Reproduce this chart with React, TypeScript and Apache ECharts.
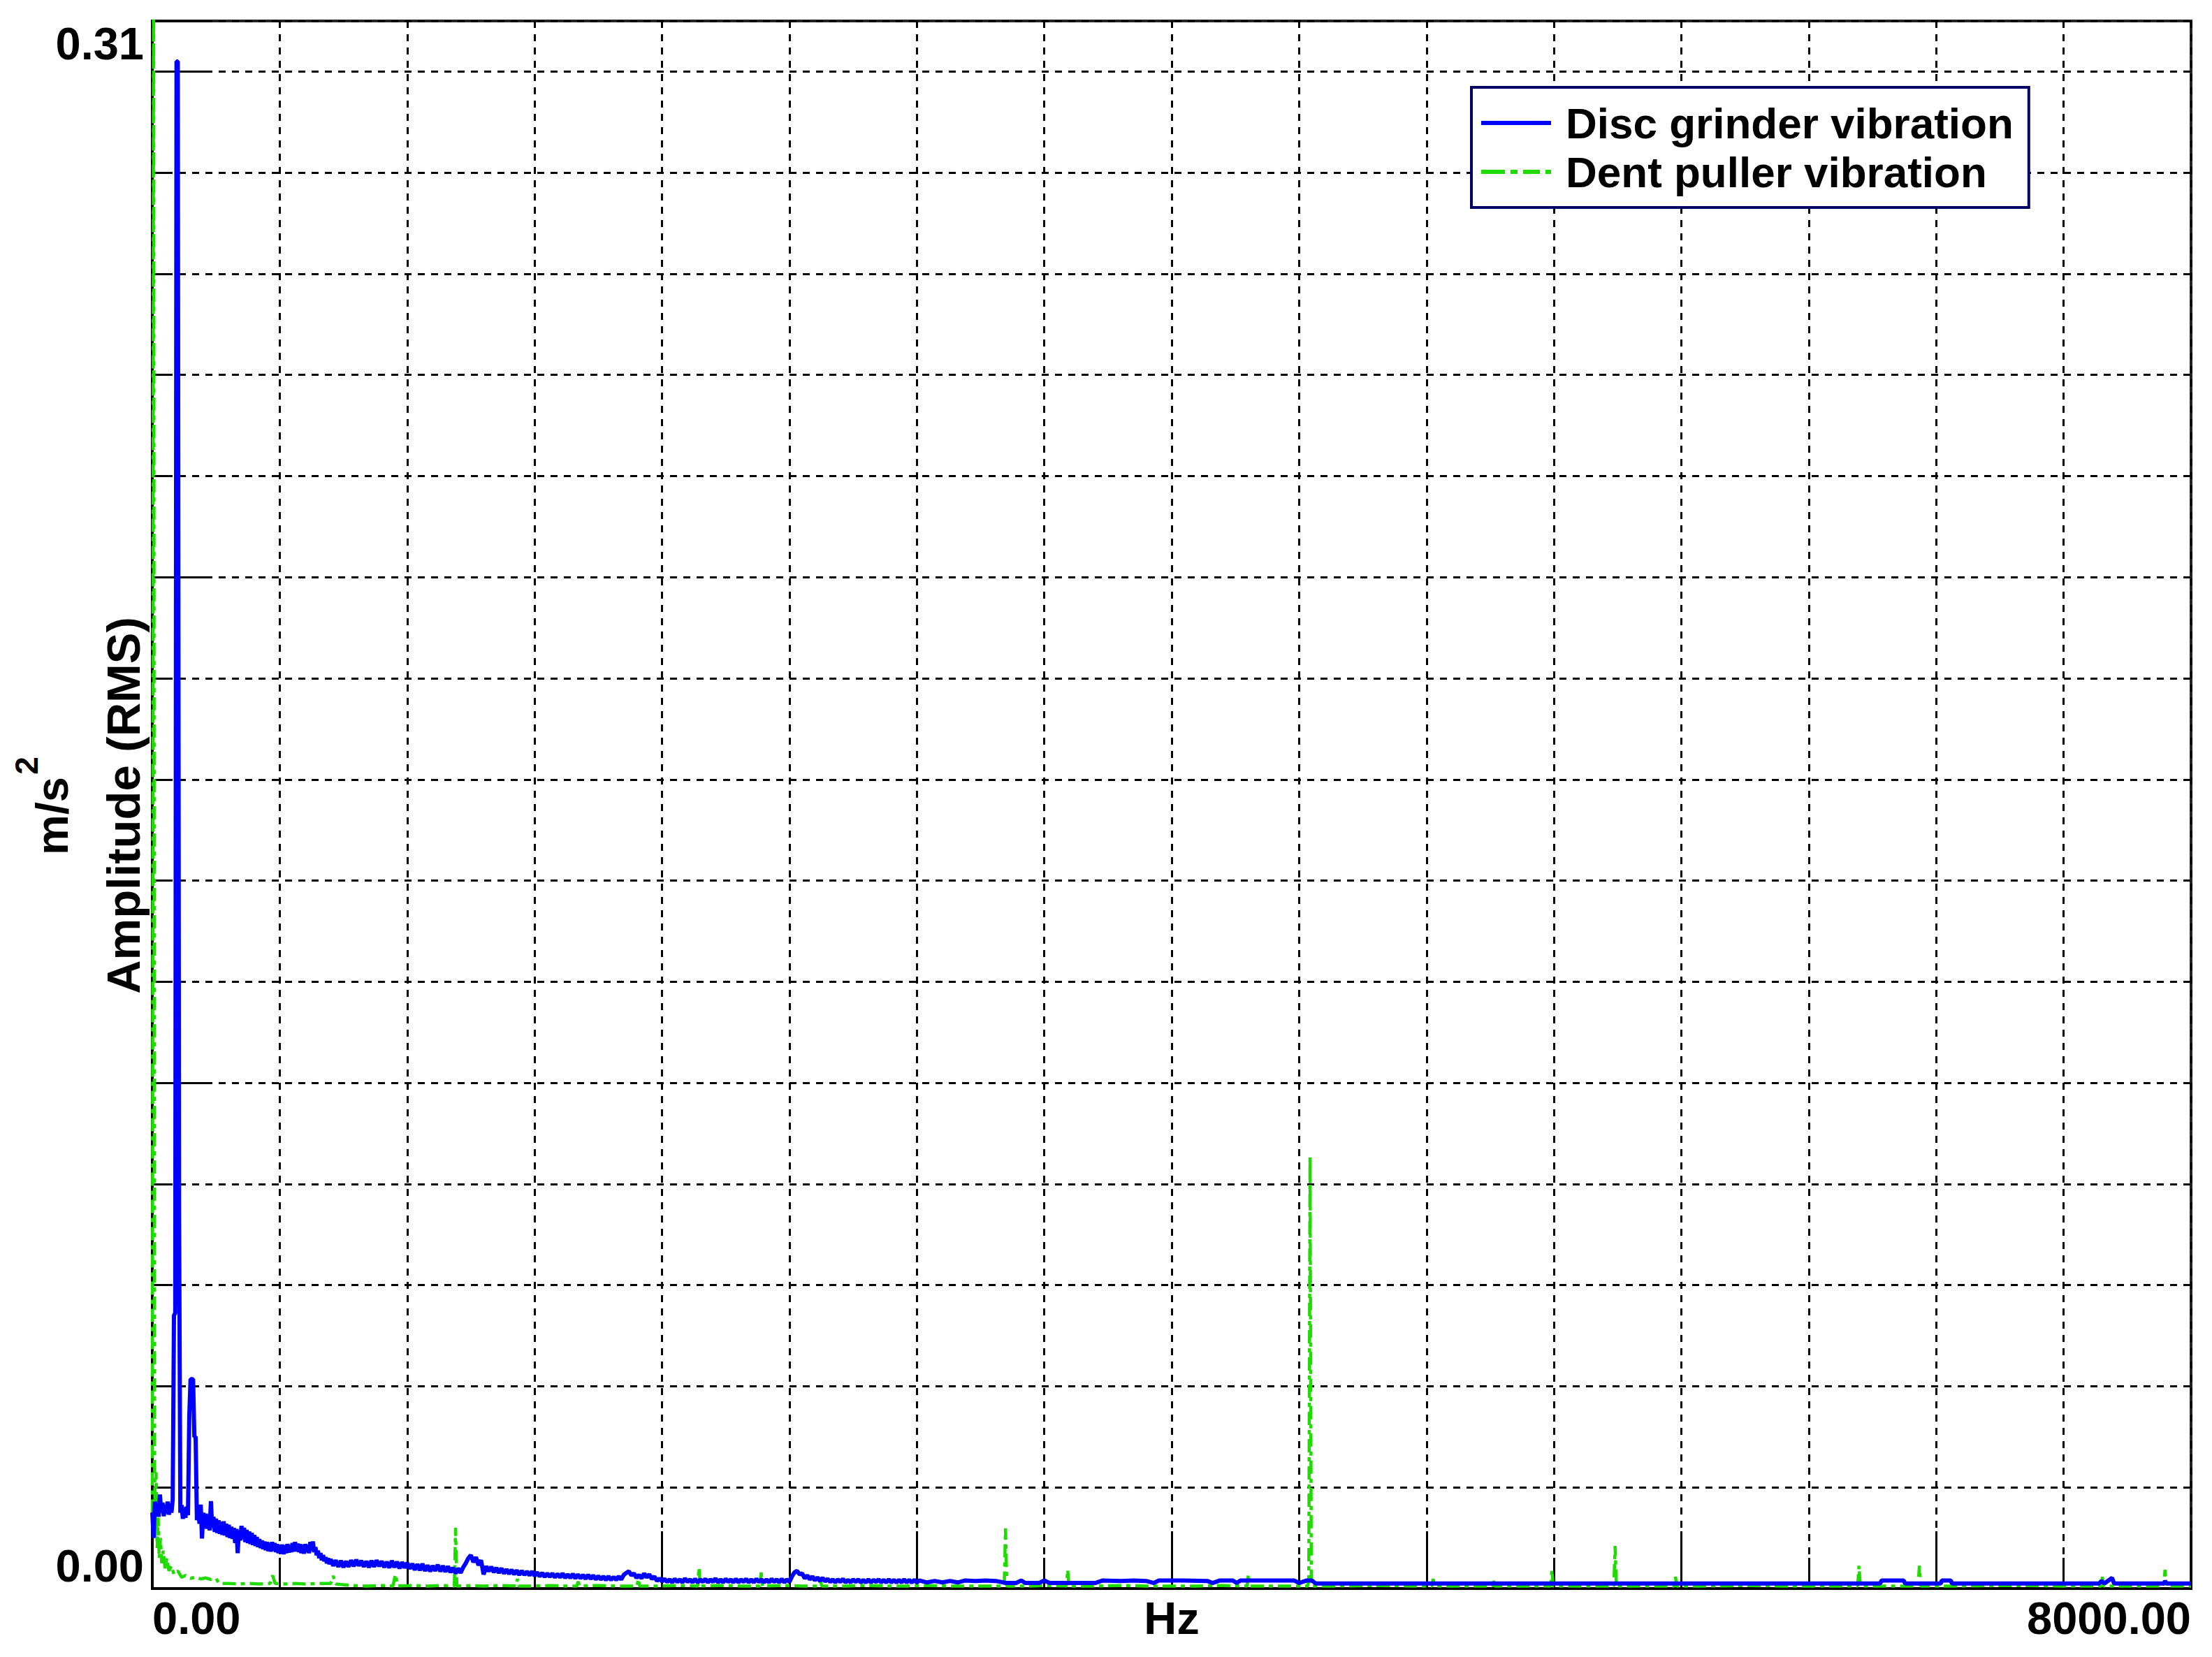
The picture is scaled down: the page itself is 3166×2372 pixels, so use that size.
import React, { useEffect, useRef } from 'react';
import * as echarts from 'echarts';

const FONT = "'Liberation Sans', Arial, Helvetica, sans-serif";

const seriesNames = ['Disc grinder vibration', 'Dent puller vibration'];
const xTickLabels = ['0.00', '8000.00'];
const yTickLabels = ['0.00', '0.31'];
const xAxisTitle = 'Hz';
const yAxisTitle = 'Amplitude (RMS)';
const yUnit = 'm/s';
const yUnitExp = '2';

// Disc grinder spectrum, 0–700 Hz, one reading every 5 Hz (m/s^2)
const discLowStartHz = 0;
const discLowStepHz = 5;
const discLowAmps: number[] = [
  0.015, 0.01, 0.0172, 0.0145, 0.0168, 0.0142, 0.0186, 0.015, 0.017, 0.0143,
  0.0166, 0.0148, 0.0172, 0.0146, 0.0168, 0.015, 0.0175, 0.054, 0.0545, 0.302,
  0.302, 0.0745, 0.015, 0.0165, 0.0138, 0.016, 0.014, 0.0162, 0.0145, 0.034,
  0.0414, 0.0414, 0.0414, 0.03, 0.03, 0.0135, 0.016, 0.0128, 0.0166, 0.0099,
  0.015, 0.012, 0.0148, 0.0118, 0.0145, 0.0115, 0.0173, 0.012, 0.0142, 0.0112,
  0.0138, 0.011, 0.0135, 0.0108, 0.0132, 0.0106, 0.0133, 0.0105, 0.0128, 0.0102,
  0.0126, 0.01, 0.0122, 0.0098, 0.012, 0.009, 0.0118, 0.007, 0.0115, 0.0095,
  0.0124, 0.0098, 0.012, 0.0092, 0.0116, 0.009, 0.0113, 0.0088, 0.011, 0.0086,
  0.0106, 0.0084, 0.0102, 0.0082, 0.0098, 0.008, 0.0095, 0.0078, 0.0093, 0.0076,
  0.0092, 0.0074, 0.009, 0.0073, 0.0092, 0.0075, 0.009, 0.0072, 0.0088, 0.007,
  0.0086, 0.0069, 0.0087, 0.0068, 0.0085, 0.007, 0.0088, 0.0071, 0.0086, 0.0072,
  0.009, 0.0073, 0.0092, 0.0074, 0.0089, 0.0072, 0.0088, 0.007, 0.0086, 0.0069,
  0.0088, 0.0072, 0.0086, 0.007, 0.0092, 0.0075, 0.0093, 0.0072, 0.0082, 0.0066,
  0.0075, 0.006, 0.007, 0.0056, 0.0066, 0.0054, 0.0062, 0.005, 0.006, 0.0048,
  0.0058,
];

// Disc grinder spectrum, 710–3000 Hz, one reading every 10 Hz (m/s^2)
const discMidStartHz = 710;
const discMidStepHz = 10;
const discMidAmps: number[] = [
  0.0045, 0.0056, 0.0043, 0.0055, 0.0042, 0.0054, 0.0043, 0.0056, 0.0044, 0.0057,
  0.0045, 0.0055, 0.0043, 0.0054, 0.0042, 0.0055, 0.0043, 0.0056, 0.0044, 0.0054,
  0.0042, 0.0053, 0.0041, 0.0055, 0.0042, 0.0053, 0.004, 0.0052, 0.0041, 0.0051,
  0.0039, 0.0049, 0.0037, 0.0048, 0.0036, 0.0049, 0.0035, 0.0046, 0.0034, 0.0045,
  0.0035, 0.0047, 0.0034, 0.0045, 0.0033, 0.0044, 0.0032, 0.0041, 0.003, 0.004,
  0.0031, 0.0042, 0.005, 0.006, 0.0066, 0.0052, 0.0062, 0.0046, 0.0056, 0.0028,
  0.0044, 0.0034, 0.0043, 0.0032, 0.0041, 0.0031, 0.004, 0.003, 0.0038, 0.0029,
  0.0037, 0.0028, 0.0036, 0.0027, 0.0035, 0.0027, 0.0034, 0.0026, 0.0034, 0.0025,
  0.0032, 0.0024, 0.0031, 0.0023, 0.003, 0.0023, 0.003, 0.0022, 0.0029, 0.0022,
  0.003, 0.0021, 0.0028, 0.0021, 0.0029, 0.002, 0.0028, 0.002, 0.0027, 0.0019,
  0.0027, 0.0019, 0.0026, 0.0018, 0.0025, 0.0018, 0.0024, 0.0017, 0.0024, 0.0017,
  0.0023, 0.0017, 0.0024, 0.0018, 0.0027, 0.0031, 0.0034, 0.0026, 0.003, 0.0021,
  0.0027, 0.002, 0.003, 0.0022, 0.0028, 0.0019, 0.0024, 0.0015, 0.002, 0.0014,
  0.0019, 0.0013, 0.0018, 0.0012, 0.0019, 0.0013, 0.0018, 0.0012, 0.002, 0.0013,
  0.0018, 0.0012, 0.0019, 0.0012, 0.0018, 0.0013, 0.0019, 0.0012, 0.0018, 0.0013,
  0.002, 0.0012, 0.0018, 0.0012, 0.0019, 0.0013, 0.0018, 0.0012, 0.0019, 0.0012,
  0.0018, 0.0013, 0.0019, 0.0012, 0.0018, 0.0012, 0.0019, 0.0013, 0.0018, 0.0012,
  0.0018, 0.0012, 0.0019, 0.0013, 0.0018, 0.0012, 0.0019, 0.0012, 0.0018, 0.0013,
  0.0024, 0.0032, 0.0035, 0.0028, 0.003, 0.002, 0.0026, 0.0018, 0.0024, 0.0016,
  0.0022, 0.0015, 0.0021, 0.0014, 0.0019, 0.0013, 0.0018, 0.0012, 0.0018, 0.0013,
  0.0019, 0.0012, 0.0017, 0.0012, 0.0018, 0.0013, 0.0018, 0.0012, 0.0017, 0.0012,
  0.0018, 0.0012, 0.0017, 0.0013, 0.0018, 0.0012, 0.0017, 0.0012, 0.0018, 0.0012,
  0.0017, 0.0012, 0.0017, 0.0012, 0.0018, 0.0012, 0.0017, 0.0012, 0.0017, 0.0012,
];

// Disc grinder spectrum above 3000 Hz: [frequency Hz, amplitude m/s^2]
const discHigh: [number, number][] = [
  [3010, 0.0016], [3040, 0.0012], [3070, 0.0015], [3100, 0.0012], [3130, 0.0015], [3160, 0.0012],
  [3190, 0.0016], [3230, 0.0015], [3270, 0.0016], [3310, 0.0015], [3350, 0.0011], [3390, 0.0011],
  [3410, 0.0016], [3425, 0.0011], [3480, 0.0011], [3500, 0.0016], [3520, 0.0011], [3600, 0.0011],
  [3700, 0.0011], [3730, 0.0016], [3800, 0.0015], [3850, 0.0016], [3900, 0.0015], [3930, 0.0011],
  [3950, 0.0016], [4050, 0.0016], [4140, 0.0015], [4160, 0.0011], [4190, 0.0016], [4240, 0.0016],
  [4255, 0.0011], [4270, 0.0016], [4380, 0.0016], [4480, 0.0016], [4500, 0.0011], [4530, 0.0016],
  [4550, 0.0016], [4565, 0.001], [4800, 0.001], [5100, 0.001], [5400, 0.001], [5700, 0.001],
  [6000, 0.001], [6300, 0.001], [6600, 0.001], [6780, 0.001], [6786, 0.0016], [6872, 0.0016],
  [6878, 0.001], [7018, 0.001], [7022, 0.0016], [7057, 0.0016], [7062, 0.001], [7300, 0.001],
  [7640, 0.001], [7648, 0.0015], [7660, 0.001], [7690, 0.0021], [7698, 0.001], [7894, 0.001],
  [7898, 0.0015], [7904, 0.001], [8000, 0.001],
];

// Dent puller spectrum: [frequency Hz, amplitude m/s^2]
const dentPuller: [number, number][] = [
  [0, 0.015], [5, 0.33], [9, 0.0245], [12, 0.01], [15, 0.023], [19, 0.008], [23, 0.014], [27, 0.006], [32, 0.01],
  [37, 0.005], [43, 0.0075], [50, 0.004], [57, 0.006], [65, 0.0035], [75, 0.0045], [85, 0.0028], [100, 0.0035],
  [115, 0.0022], [130, 0.0026], [150, 0.002], [170, 0.0023], [190, 0.0019], [210, 0.0021], [230, 0.0018],
  [250, 0.002], [262, 0.001], [300, 0.001], [340, 0.0009], [380, 0.001], [420, 0.0009], [462, 0.001],
  [472, 0.0026], [482, 0.001], [520, 0.0009], [560, 0.001], [600, 0.0009], [650, 0.001], [700, 0.001],
  [710, 0.0025], [720, 0.0009], [780, 0.0006], [840, 0.0005], [900, 0.0006], [944, 0.0005], [954, 0.0028],
  [964, 0.0005], [1020, 0.0006], [1080, 0.0005], [1140, 0.0006], [1185, 0.0005], [1190, 0.012], [1195, 0.0005],
  [1250, 0.0006], [1300, 0.0005], [1360, 0.0006], [1428, 0.0005], [1433, 0.0019], [1438, 0.0005], [1500, 0.0005],
  [1560, 0.0006], [1620, 0.0005], [1666, 0.0005], [1671, 0.0014], [1676, 0.0005], [1750, 0.0006], [1820, 0.0005],
  [1902, 0.0005], [1907, 0.0019], [1912, 0.0005], [1990, 0.0005], [2060, 0.0006], [2140, 0.0005], [2145, 0.0041],
  [2150, 0.0005], [2230, 0.0006], [2310, 0.0005], [2384, 0.0005], [2389, 0.0032], [2394, 0.0005], [2470, 0.0006],
  [2550, 0.0005], [2617, 0.0005], [2622, 0.0014], [2627, 0.0005], [2720, 0.0005], [2800, 0.0006], [2880, 0.0005],
  [2960, 0.0005], [3040, 0.0006], [3120, 0.0005], [3200, 0.0005], [3280, 0.0005], [3343, 0.0005], [3348, 0.0119],
  [3353, 0.0005], [3440, 0.0005], [3500, 0.0006], [3587, 0.0005], [3592, 0.0037], [3597, 0.0005], [3700, 0.0005],
  [3800, 0.0006], [3900, 0.0005], [4000, 0.0005], [4100, 0.0005], [4200, 0.0006], [4296, 0.0005], [4301, 0.0028],
  [4306, 0.0005], [4400, 0.0005], [4500, 0.0005], [4533, 0.0005], [4538, 0.0015], [4543, 0.0854], [4548, 0.0005],
  [4650, 0.0005], [4800, 0.0006], [4950, 0.0005], [5021, 0.0005], [5026, 0.0019], [5031, 0.0005], [5150, 0.0005],
  [5257, 0.0005], [5262, 0.0019], [5267, 0.0005], [5400, 0.0005], [5487, 0.0005], [5492, 0.0037], [5497, 0.0005],
  [5600, 0.0005], [5735, 0.0005], [5740, 0.0084], [5745, 0.0005], [5850, 0.0005], [5972, 0.0005], [5977, 0.0023],
  [5982, 0.0005], [6100, 0.0005], [6250, 0.0006], [6400, 0.0005], [6550, 0.0005], [6692, 0.0005], [6697, 0.0045],
  [6702, 0.0005], [6800, 0.0005], [6929, 0.0005], [6934, 0.0045], [6939, 0.0005], [7100, 0.0005], [7300, 0.0006],
  [7500, 0.0005], [7647, 0.0005], [7652, 0.0023], [7657, 0.0005], [7750, 0.0005], [7893, 0.0005], [7898, 0.0037],
  [7903, 0.0005], [8000, 0.0005],
];

const X_MIN = 0;
const X_MAX = 8000;
const Y_MIN = 0;
const Y_MAX = 0.31;

const BLUE = '#0000ff';
const GREEN = '#1edc00';

function buildDisc(): [number, number][] {
  const out: [number, number][] = [];
  discLowAmps.forEach((v, i) => out.push([discLowStartHz + i * discLowStepHz, v]));
  discMidAmps.forEach((v, i) => out.push([discMidStartHz + i * discMidStepHz, v]));
  discHigh.forEach((p) => out.push([p[0], p[1]]));
  return out;
}

export default function App() {
  const ref = useRef<HTMLDivElement>(null);

  useEffect(() => {
    document.body.style.margin = '0';
    document.body.style.overflow = 'hidden';
    if (!ref.current) return;
    const chart = echarts.init(ref.current, null, { renderer: 'svg' });

    const labelFont = { fontSize: 65, fontWeight: 'bold' as const, fontFamily: FONT, color: '#000' };
    const gridDash = { color: '#000', width: 3, type: [10, 9] as number[] };

    const option: any = {
      animation: false,
      backgroundColor: '#ffffff',
      grid: {
        left: 218, right: 30, top: 30, bottom: 98,
        show: true, borderColor: '#222', borderWidth: 4, backgroundColor: 'transparent',
        containLabel: false, outerBoundsMode: 'none',
      },
      legend: {
        show: true,
        orient: 'vertical',
        left: 2106,
        top: 125,
        padding: [20, 22, 20, 14],
        itemGap: 8,
        itemWidth: 100,
        itemHeight: 6,
        backgroundColor: '#ffffff',
        borderColor: '#000066',
        borderWidth: 4,
        borderRadius: 0,
        selectedMode: false,
        itemStyle: { borderWidth: 0 },
        textStyle: { ...labelFont, fontSize: 62, lineHeight: 62, padding: [0, 0, 0, 16] },
        data: [
          { name: seriesNames[0], icon: 'path://M0,0H100V6H0Z' },
          { name: seriesNames[1], icon: 'path://M0,0H34V6H0Z M42,0H52V6H42Z M60,0H84V6H60Z M92,0H100V6H92Z' },
        ],
      },
      xAxis: [
        {
          type: 'value', min: X_MIN, max: X_MAX, interval: 500, position: 'bottom',
          name: xAxisTitle, nameLocation: 'middle', nameGap: 10, nameMoveOverlap: false,
          nameTextStyle: { ...labelFont, verticalAlign: 'top' },
          axisLine: { show: true, onZero: false, lineStyle: { color: '#000', width: 4 } },
          axisTick: { show: true, inside: true, length: 44, lineStyle: { color: '#000', width: 3 } },
          axisLabel: {
            show: true, margin: 10, ...labelFont,
            showMinLabel: true, showMaxLabel: true,
            alignMinLabel: 'left', alignMaxLabel: 'right',
            formatter: (v: number) => (v === X_MIN ? xTickLabels[0] : v === X_MAX ? xTickLabels[1] : ''),
          },
          splitLine: { show: true, lineStyle: gridDash },
        },
        {
          type: 'value', min: X_MIN, max: X_MAX, interval: 1000, position: 'bottom',
          axisLine: { show: false },
          axisTick: { show: true, inside: true, length: 82, lineStyle: { color: '#000', width: 3 } },
          axisLabel: { show: false },
          splitLine: { show: false },
        },
      ],
      yAxis: [
        {
          type: 'value', min: Y_MIN, max: Y_MAX, interval: 0.02, position: 'left',
          axisLine: { show: true, onZero: false, lineStyle: { color: '#000', width: 4 } },
          axisTick: { show: true, inside: true, length: 27, lineStyle: { color: '#000', width: 3 } },
          axisLabel: {
            show: true, margin: 12, ...labelFont,
            showMinLabel: true, showMaxLabel: true,
            verticalAlignMinLabel: 'bottom', verticalAlignMaxLabel: 'top',
            formatter: (v: number) =>
              Math.abs(v - Y_MIN) < 1e-9 ? yTickLabels[0] : Math.abs(v - Y_MAX) < 1e-9 ? yTickLabels[1] : '',
          },
          splitLine: { show: true, lineStyle: gridDash },
        },
        {
          type: 'value', min: Y_MIN, max: Y_MAX, interval: 0.1, position: 'left',
          axisLine: { show: false },
          axisTick: { show: true, inside: true, length: 82, lineStyle: { color: '#000', width: 3 } },
          axisLabel: { show: false },
          splitLine: { show: false },
        },
      ],
      graphic: [
        {
          type: 'text', x: 176, y: 1153, rotation: Math.PI / 2, silent: true,
          style: { text: yAxisTitle, fontSize: 67, fontWeight: 'bold', fontFamily: FONT, fill: '#000', align: 'center', verticalAlign: 'middle' },
        },
        {
          type: 'text', x: 74, y: 1168, rotation: Math.PI / 2, silent: true,
          style: { text: yUnit, fontSize: 65, fontWeight: 'bold', fontFamily: FONT, fill: '#000', align: 'center', verticalAlign: 'middle' },
        },
        {
          type: 'text', x: 38, y: 1096, rotation: Math.PI / 2, silent: true,
          style: { text: yUnitExp, fontSize: 46, fontWeight: 'bold', fontFamily: FONT, fill: '#000', align: 'center', verticalAlign: 'middle' },
        },
      ],
      series: [
        {
          name: seriesNames[0], type: 'line', data: buildDisc(), xAxisIndex: 0, yAxisIndex: 0,
          symbol: 'none', showSymbol: false, z: 3, clip: true, silent: true,
          lineStyle: { color: BLUE, width: 6, join: 'bevel' },
          itemStyle: { color: BLUE },
          emphasis: { disabled: true },
        },
        {
          name: seriesNames[1], type: 'line', data: dentPuller, xAxisIndex: 0, yAxisIndex: 0,
          symbol: 'none', showSymbol: false, z: 2, clip: true, silent: true,
          lineStyle: { color: GREEN, width: 4.5, type: [19, 7, 6, 7], join: 'bevel' },
          itemStyle: { color: GREEN },
          emphasis: { disabled: true },
        },
      ],
    };

    chart.setOption(option);
    return () => {
      chart.dispose();
    };
  }, []);

  return <div ref={ref} style={{ width: 3166, height: 2372 }} />;
}
